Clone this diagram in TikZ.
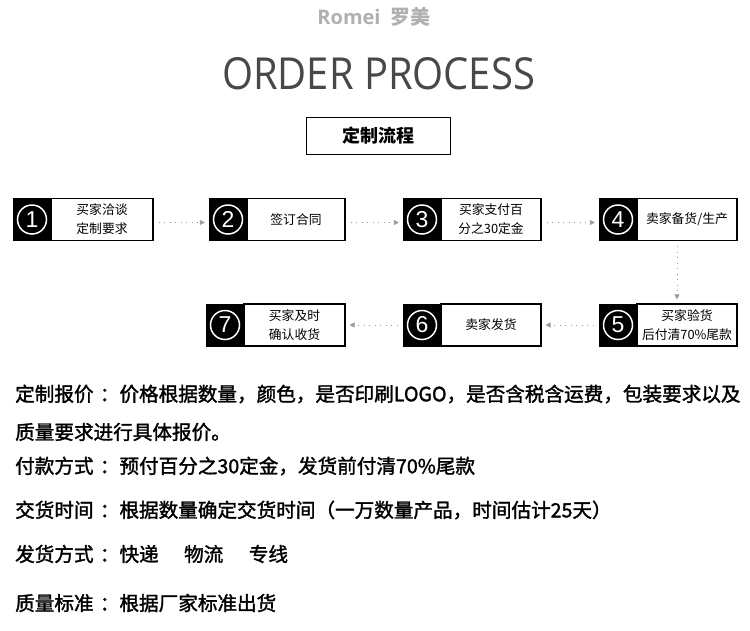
\documentclass[tikz,border=0pt]{standalone}
\usepackage{fontspec}
\usepackage{graphicx}
\usetikzlibrary{arrows.meta}
\setmainfont{Open Sans}
\newfontfamily\cjk{Noto Sans CJK SC}
\newfontfamily\cjkm{Noto Sans CJK SC}[FakeBold=1.6]
\newfontfamily\osans{Open Sans}
\newfontfamily\lsans{Liberation Sans}
\definecolor{dotgray}{HTML}{9A9A9A}
\definecolor{titlegray}{HTML}{484848}
\definecolor{brandgray}{HTML}{B0B0B0}
\newcommand{\colsep}{\hspace{0.32em}：}
\begin{document}
\begin{tikzpicture}[x=1pt,y=-1pt,
  numbox/.style={fill=black, minimum width=38pt, minimum height=43pt, inner sep=0pt},
  numcirc/.style={circle, draw=white, line width=1.5pt, minimum size=29pt, inner sep=0pt, text=white, font=\lsans\fontsize{23}{23}\selectfont},
  txtbox/.style={draw=black, line width=1.1pt, fill=white, minimum height=42pt, inner sep=0pt, font=\cjk\fontsize{12.8}{19}\selectfont, align=center},
  flow/.style={dotgray, line width=0.9pt, dash pattern=on 1pt off 4.5pt, -{Triangle[length=5pt,width=5pt]}, shorten <=5pt, shorten >=4pt},
  info/.style={anchor=west, inner sep=0pt, font=\cjkm\fontsize{19.6}{20}\selectfont}
]
\useasboundingbox[fill=white] (0,0) rectangle (750,630);

% header
\node[text=brandgray, inner sep=0pt] (brand) at (374,17) {\osans\bfseries\fontsize{20}{20}\selectfont Romei\hspace{0.5em}{\cjk\bfseries 罗美}};
\node[text=titlegray, inner sep=0pt] (head) at (378.5,74) {\resizebox{313pt}{32pt}{\osans ORDER PROCESS}};
\node[draw=black, line width=1pt, minimum width=144pt, minimum height=37pt, inner sep=0pt, font=\cjk\bfseries\fontsize{18}{18}\selectfont] (title) at (378,135.5) {定制流程};

% row 1
\node[numbox] (n1) at (32,219.5) {};
\node[numcirc] (c1) at (n1) {1};
\node[txtbox, minimum width=102pt] (t1) at (102,219.5) {买家洽谈\\定制要求};

\node[numbox] (n2) at (228,219.5) {};
\node[numcirc] (c2) at (n2) {2};
\node[txtbox, minimum width=98pt] (t2) at (296,219.5) {签订合同};

\node[numbox] (n3) at (422,219.5) {};
\node[numcirc] (c3) at (n3) {3};
\node[txtbox, minimum width=100pt] (t3) at (491,219.5) {买家支付百\\分之30定金};

\node[numbox] (n4) at (618,219.5) {};
\node[numcirc] (c4) at (n4) {4};
\node[txtbox, minimum width=100pt] (t4) at (687,219.5) {卖家备货/生产};

% row 2
\node[numbox] (n5) at (618,325) {};
\node[numcirc] (c5) at (n5) {5};
\node[txtbox, minimum width=100pt] (t5) at (687,325) {买家验货\\后付清70\%尾款};

\node[numbox] (n6) at (422,325) {};
\node[numcirc] (c6) at (n6) {6};
\node[txtbox, minimum width=100pt] (t6) at (491,325) {卖家发货};

\node[numbox] (n7) at (225,325) {};
\node[numcirc] (c7) at (n7) {7};
\node[txtbox, minimum width=101pt] (t7) at (294.5,325) {买家及时\\确认收货};

% connectors
\draw[flow] ([yshift=-3pt]t1.east) -- ([yshift=-3pt]n2.west);
\draw[flow] ([yshift=-3pt]t2.east) -- ([yshift=-3pt]n3.west);
\draw[flow] ([yshift=-3pt]t3.east) -- ([yshift=-3pt]n4.west);
\draw[flow] ([xshift=-10pt]t4.south) -- ([xshift=-10pt]t5.north);
\draw[flow] (n5.west) -- (t6.east);
\draw[flow] (n6.west) -- (t7.east);

% information lines
\node[info] (i1) at (15,394) {定制报价\colsep 价格根据数量，颜色，是否印刷LOGO，是否含税含运费，包装要求以及};
\node[info] (i2) at (15,432) {质量要求进行具体报价。};
\node[info] (i3) at (15,466) {付款方式\colsep 预付百分之30定金，发货前付清70\%尾款};
\node[info] (i4) at (15,510) {交货时间\colsep 根据数量确定交货时间（一万数量产品，时间估计25天）};
\node[info] (i5) at (15,554) {发货方式\colsep 快递\hspace{1.3em}物流\hspace{1.3em}专线};
\node[info] (i6) at (15,603) {质量标准\colsep 根据厂家标准出货};
\end{tikzpicture}
\end{document}
